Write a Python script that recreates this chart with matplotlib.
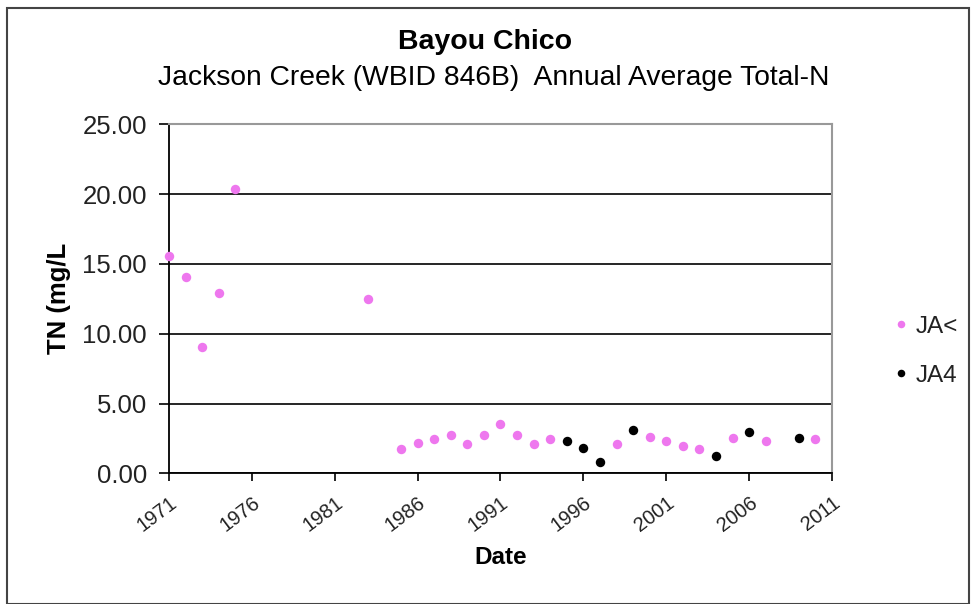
import matplotlib.pyplot as plt
from matplotlib.patches import Rectangle
from matplotlib.ticker import FormatStrFormatter

plt.rcParams["font.family"] = ["Liberation Sans", "DejaVu Sans"]

# station JA< (pink)
ja_lt_years = [1971, 1972, 1973, 1974, 1975, 1983, 1985, 1986, 1987, 1988, 1989,
               1990, 1991, 1992, 1993, 1994, 1998, 2000, 2001, 2002, 2003, 2005,
               2007, 2010]
ja_lt_tn = [15.56, 14.09, 9.03, 12.95, 20.39, 12.47, 1.72, 2.17, 2.43, 2.76, 2.10,
            2.76, 3.55, 2.76, 2.07, 2.43, 2.07, 2.62, 2.29, 1.93, 1.72, 2.52,
            2.29, 2.43]

# station JA4 (black)
ja4_years = [1995, 1996, 1997, 1999, 2004, 2006, 2009]
ja4_tn = [2.29, 1.83, 0.81, 3.10, 1.26, 2.98, 2.52]

x_ticks = [1971, 1976, 1981, 1986, 1991, 1996, 2001, 2006, 2011]
y_ticks = [0, 5, 10, 15, 20, 25]

fig = plt.figure(figsize=(9.77, 6.04), dpi=100)
W, H = 977, 604
ax = fig.add_axes([169 / W, 1 - 473.3 / H, (832 - 169) / W, (473.3 - 124.3) / H])

ax.plot(ja_lt_years, ja_lt_tn, "o", color="#EE77EE", markersize=6.8,
        markeredgewidth=0, label="JA<", clip_on=False, zorder=3)
ax.plot(ja4_years, ja4_tn, "o", color="black", markersize=6.8,
        markeredgewidth=0, label="JA4", clip_on=False, zorder=3)

ax.set_xlim(1971, 2011)
ax.set_ylim(0, 25)
ax.set_xticks(x_ticks)
ax.set_yticks(y_ticks)
ax.yaxis.set_major_formatter(FormatStrFormatter("%.2f"))
ax.grid(axis="y", color="black", linewidth=1.2)
ax.set_axisbelow(True)

for side in ("top", "right"):
    ax.spines[side].set_color("#999999")
    ax.spines[side].set_linewidth(1.5)
for side in ("left", "bottom"):
    ax.spines[side].set_color("black")
    ax.spines[side].set_linewidth(1.3)

ax.tick_params(axis="y", direction="out", length=7, width=1.2, pad=9,
               labelsize=18.5, labelcolor="#222222")
ax.tick_params(axis="x", direction="out", length=6, width=1.2, pad=8,
               labelsize=14.5, labelcolor="#222222")
for lbl in ax.get_xticklabels():
    lbl.set_rotation(37)
    lbl.set_ha("right")
    lbl.set_rotation_mode("anchor")

ax.set_xlabel("Date", fontsize=17.5, fontweight="bold", labelpad=8)
ax.set_ylabel("TN (mg/L", fontsize=18.5, fontweight="bold", labelpad=8)

fig.text(485 / W, 1 - 42 / H, "Bayou Chico", ha="center", va="center",
         fontsize=20.5, fontweight="bold")
fig.text(494 / W, 1 - 78 / H, "Jackson Creek (WBID 846B)  Annual Average Total-N",
         ha="center", va="center", fontsize=20.3)

ax.legend(loc="upper left", bbox_to_anchor=(872 / W, 1 - 294 / H),
          bbox_transform=fig.transFigure, frameon=False, fontsize=17.5,
          handlelength=0.6, handletextpad=0.3, labelspacing=1.1,
          markerscale=0.8, labelcolor="#222222")

fig.patches.append(Rectangle((7 / W, 0.5 / H), (969 - 7) / W, (600 - 0.5 - 4) / H,
                             transform=fig.transFigure, fill=False,
                             edgecolor="#444444", linewidth=1.5))

fig.savefig("out.png", dpi=100)
